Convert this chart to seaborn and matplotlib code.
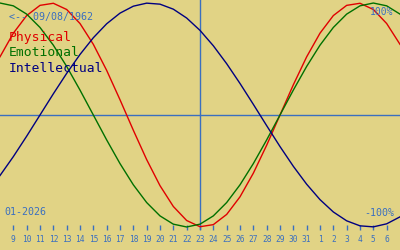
import matplotlib
matplotlib.use("Agg")
import matplotlib.pyplot as plt
import seaborn as sns
import pandas as pd

# Days (January numbering continued into February: 32 = Feb 1)
days = list(range(8, 39))
physical = [0.5196, 0.7307, 0.8879, 0.9791, 0.9977, 0.9423, 0.8170, 0.6310,
            0.3984, 0.1362, -0.1362, -0.3984, -0.6310, -0.8170, -0.9423, -0.9977,
            -0.9791, -0.8879, -0.7307, -0.5196, -0.2698, 0.0, 0.2698, 0.5196,
            0.7307, 0.8879, 0.9791, 0.9977, 0.9423, 0.8170, 0.6310]
emotional = [1.0, 0.9749, 0.9010, 0.7818, 0.6235, 0.4339, 0.2225, 0.0,
             -0.2225, -0.4339, -0.6235, -0.7818, -0.9010, -0.9749, -1.0, -0.9749,
             -0.9010, -0.7818, -0.6235, -0.4339, -0.2225, 0.0, 0.2225, 0.4339,
             0.6235, 0.7818, 0.9010, 0.9749, 1.0, 0.9749, 0.9010]
intellectual = [-0.5406, -0.3717, -0.1893, 0.0, 0.1893, 0.3717, 0.5406, 0.6901,
                0.8146, 0.9096, 0.9718, 0.9989, 0.9898, 0.9450, 0.8660, 0.7557,
                0.6182, 0.4582, 0.2817, 0.0951, -0.0951, -0.2817, -0.4582, -0.6182,
                -0.7557, -0.8660, -0.9450, -0.9898, -0.9989, -0.9718, -0.9096]

tick_days = list(range(9, 38))
tick_labels = [str(d) for d in range(9, 32)] + [str(d) for d in range(1, 7)]
today = 23
series_names = ["Physical", "Emotional", "Intellectual"]
series_colors = ["#e00000", "#007000", "#000080"]
birth_label = "<-- 09/08/1962"
month_label = "01-2026"

BG = "#e1d385"
BLUE = "#3a6fc0"

df = pd.DataFrame({
    "day": days * 3,
    "value": physical + emotional + intellectual,
    "series": [series_names[0]] * len(days) + [series_names[1]] * len(days)
              + [series_names[2]] * len(days),
})

fig = plt.figure(figsize=(4, 2.5), dpi=100, facecolor=BG)
ax = fig.add_axes([0, 20 / 250, 1, 230 / 250])
ax.set_facecolor(BG)

sns.lineplot(data=df, x="day", y="value", hue="series", hue_order=series_names,
             palette=series_colors, linewidth=1.0, legend=False, ax=ax)

ax.axhline(0, color=BLUE, lw=1.0, zorder=0)
ax.axvline(today, color=BLUE, lw=1.0, zorder=0)

ax.set_xlim(8, 38)
ax.set_ylim(-1.027, 1.027)
ax.set_xlabel("")
ax.set_ylabel("")
ax.set_yticks([])
ax.set_xticks(tick_days)
ax.set_xticklabels(tick_labels, fontfamily="DejaVu Sans Mono", fontsize=5.7, color=BLUE)
ax.tick_params(axis="x", direction="in", length=3.6, width=1, color=BLUE, pad=3.4)
for s in ax.spines.values():
    s.set_visible(False)

mono = "DejaVu Sans Mono"


def px(x, y):
    return x / 400, 1 - y / 250


fig.text(*px(9, 17), birth_label, fontfamily=mono, fontsize=7.2, color=BLUE, va="center", ha="left")
for i, (name, col) in enumerate(zip(series_names, series_colors)):
    fig.text(*px(9, 38 + 15 * i), name, fontfamily=mono, fontsize=9.4, color=col,
             va="center", ha="left")
fig.text(*px(4, 212), month_label, fontfamily=mono, fontsize=7.2, color=BLUE, va="center", ha="left")
fig.text(*px(393, 12), "100%", fontfamily=mono, fontsize=7.0, color=BLUE, va="center", ha="right")
fig.text(*px(394, 213), "-100%", fontfamily=mono, fontsize=7.2, color=BLUE, va="center", ha="right")

fig.savefig("out.png", dpi=100, facecolor=BG)
